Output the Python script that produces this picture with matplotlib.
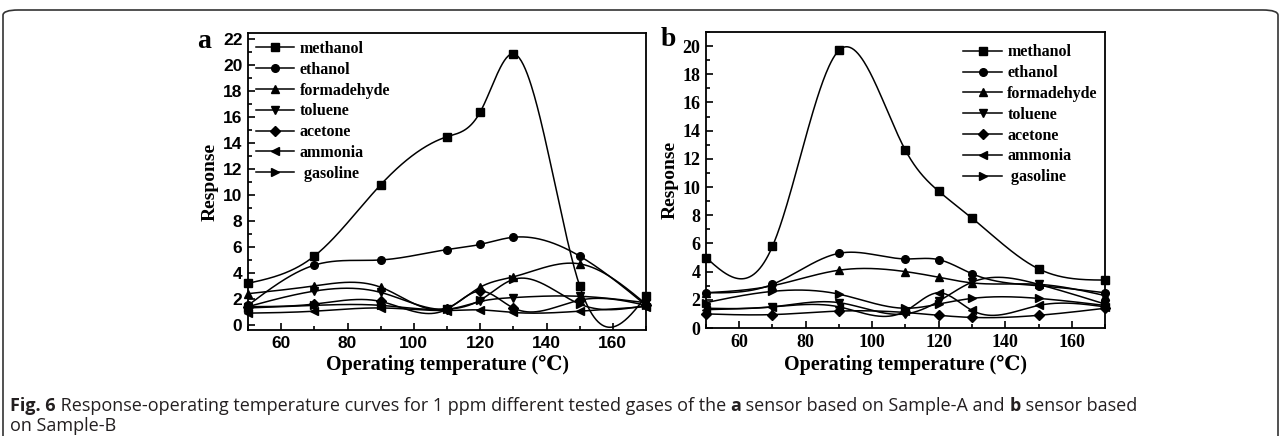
import numpy as np
import matplotlib
matplotlib.use("Agg")
import matplotlib.pyplot as plt
from matplotlib.lines import Line2D
from matplotlib.patches import FancyBboxPatch
from matplotlib.ticker import MultipleLocator

# operating temperatures (deg C)
temps = [50, 70, 90, 110, 120, 130, 150, 170]
gases = ["methanol", "ethanol", "formadehyde", "toluene", "acetone", "ammonia", " gasoline"]
markers = ["s", "o", "^", "v", "D", "<", ">"]

# panel a: sensor based on Sample-A
a_methanol = [3.2, 5.3, 10.8, 14.5, 16.4, 20.9, 3.0, 2.2]
a_ethanol = [1.5, 4.6, 5.0, 5.8, 6.2, 6.75, 5.3, 1.5]
a_formadehyde = [2.4, 3.0, 2.9, 1.3, 2.9, 3.7, 4.7, 1.6]
a_toluene = [1.4, 2.6, 2.5, 1.2, 1.8, 2.1, 2.2, 1.7]
a_acetone = [1.4, 1.6, 1.8, 1.2, 2.6, 1.3, 1.9, 1.5]
a_ammonia = [0.9, 1.05, 1.3, 1.1, 1.15, 0.95, 1.05, 1.4]
a_gasoline = [1.3, 1.5, 1.5, 1.2, 1.9, 3.5, 1.6, 1.5]

# panel b: sensor based on Sample-B
b_methanol = [5.0, 5.8, 19.7, 12.6, 9.7, 7.8, 4.2, 3.4]
b_ethanol = [2.5, 3.1, 5.3, 4.9, 4.85, 3.85, 3.0, 2.5]
b_formadehyde = [2.5, 3.0, 4.1, 4.0, 3.6, 3.2, 3.1, 2.3]
b_toluene = [1.4, 1.5, 1.8, 1.0, 1.9, 3.25, 3.1, 1.7]
b_acetone = [1.0, 0.95, 1.2, 1.1, 0.9, 0.75, 0.9, 1.4]
b_ammonia = [1.3, 1.5, 1.5, 1.2, 2.5, 1.25, 1.6, 1.5]
b_gasoline = [1.8, 2.6, 2.4, 1.4, 1.7, 2.1, 2.1, 1.6]

series_a = [a_methanol, a_ethanol, a_formadehyde, a_toluene, a_acetone, a_ammonia, a_gasoline]
series_b = [b_methanol, b_ethanol, b_formadehyde, b_toluene, b_acetone, b_ammonia, b_gasoline]

SERIF = ["Liberation Serif", "DejaVu Serif"]
SANS = ["Liberation Sans", "DejaVu Sans"]


def natural_spline(x, y, n=400):
    # natural cubic spline, like the smooth connect lines of the original
    x = np.asarray(x, float)
    y = np.asarray(y, float)
    k = len(x)
    h = np.diff(x)
    A = np.zeros((k, k))
    r = np.zeros(k)
    A[0, 0] = A[-1, -1] = 1
    for i in range(1, k - 1):
        A[i, i - 1] = h[i - 1]
        A[i, i] = 2 * (h[i - 1] + h[i])
        A[i, i + 1] = h[i]
        r[i] = 3 * ((y[i + 1] - y[i]) / h[i] - (y[i] - y[i - 1]) / h[i - 1])
    c = np.linalg.solve(A, r)
    b = (y[1:] - y[:-1]) / h - h * (2 * c[:-1] + c[1:]) / 3
    d = (c[1:] - c[:-1]) / (3 * h)
    xs = np.linspace(x[0], x[-1], n)
    idx = np.clip(np.searchsorted(x, xs) - 1, 0, k - 2)
    dx = xs - x[idx]
    ys = y[idx] + b[idx] * dx + c[idx] * dx ** 2 + d[idx] * dx ** 3
    return xs, ys


def draw_panel(ax, series, ylim, tickfont, ticksize, legend_anchor):
    for vals, m in zip(series, markers):
        xs, ys = natural_spline(temps, vals)
        ax.plot(xs, ys, color="black", lw=1.1, clip_on=True)
        ax.plot(temps, vals, ls="none", marker=m, color="black",
                ms=5.5 if m != "D" else 4.8, clip_on=False, zorder=3)
    ax.set_xlim(50, 170)
    ax.set_ylim(*ylim)
    ax.xaxis.set_major_locator(MultipleLocator(20))
    ax.xaxis.set_minor_locator(MultipleLocator(10))
    ax.yaxis.set_major_locator(MultipleLocator(2))
    ax.yaxis.set_minor_locator(MultipleLocator(1))
    ax.set_xticks([60, 80, 100, 120, 140, 160])
    ax.tick_params(which="both", direction="in", width=1.2, top=False, right=False)
    ax.tick_params(which="major", length=5, pad=4)
    ax.tick_params(which="minor", length=3)
    for lab in ax.get_xticklabels() + ax.get_yticklabels():
        lab.set_family(tickfont)
        lab.set_fontweight("bold")
        lab.set_fontsize(ticksize)
    for sp in ax.spines.values():
        sp.set_linewidth(1.3)
    ax.set_xlabel("Operating temperature (\u2103)", family=SERIF, fontweight="bold",
                  fontsize=14.5, labelpad=3)
    ax.set_ylabel("Response", family=SERIF, fontweight="bold", fontsize=14, labelpad=3)
    handles = [Line2D([], [], color="black", lw=1.1, marker=m,
                      ms=5.5 if m != "D" else 4.8) for m in markers]
    ax.legend(handles, gases, loc="upper left", bbox_to_anchor=legend_anchor,
              frameon=False, handlelength=2.4, handletextpad=0.35, borderpad=0.2,
              borderaxespad=0.3, labelspacing=0.3,
              prop={"family": SERIF, "weight": "bold", "size": 11.5})


fig = plt.figure(figsize=(12.81, 4.36), dpi=100)

ax_a = fig.add_axes([248 / 1281, 1 - 330 / 436, 398 / 1281, 297 / 436])
draw_panel(ax_a, series_a, (-0.4, 22.5), SANS, 12.5, (0.0, 1.0))
ax_b = fig.add_axes([706 / 1281, 1 - 328 / 436, 399 / 1281, 296 / 436])
draw_panel(ax_b, series_b, (0, 21), SERIF, 13, (0.625, 0.985))

fig.text(204 / 1281, 1 - 42 / 436, "a", family=SERIF, fontweight="bold",
         fontsize=20, ha="center", va="center")
fig.text(668 / 1281, 1 - 40 / 436, "b", family=SERIF, fontweight="bold",
         fontsize=20, ha="center", va="center")

# outer frame of the figure
frame = FancyBboxPatch((3 / 1281, -0.05), 1275 / 1281, 1 - 10 / 436 + 0.05,
                       boxstyle="round,pad=0,rounding_size=0.012",
                       transform=fig.transFigure, fill=False,
                       edgecolor="#333333", lw=1.2)
fig.add_artist(frame)

# caption with bold pieces
cap_col = "#231f20"
cap_font = ["Open Sans", "DejaVu Sans"]
cap_size = 13
line1 = [("Fig. 6", "bold"),
         (" Response-operating temperature curves for 1 ppm different tested gases of the ", "normal"),
         ("a", "bold"), (" sensor based on Sample-A and ", "normal"),
         ("b", "bold"), (" sensor based", "normal")]
fig.canvas.draw()
renderer = fig.canvas.get_renderer()
x = 10 / 1281
for txt, w in line1:
    t = fig.text(x, 1 - 406 / 436, txt, family=cap_font, fontweight=w,
                 fontsize=cap_size, color=cap_col, va="center", ha="left")
    bb = t.get_window_extent(renderer)
    x += bb.width / 1281
fig.text(10 / 1281, 1 - 426 / 436, "on Sample-B", family=cap_font,
         fontsize=cap_size, color=cap_col, va="center", ha="left")

fig.savefig("out.png", dpi=100)
